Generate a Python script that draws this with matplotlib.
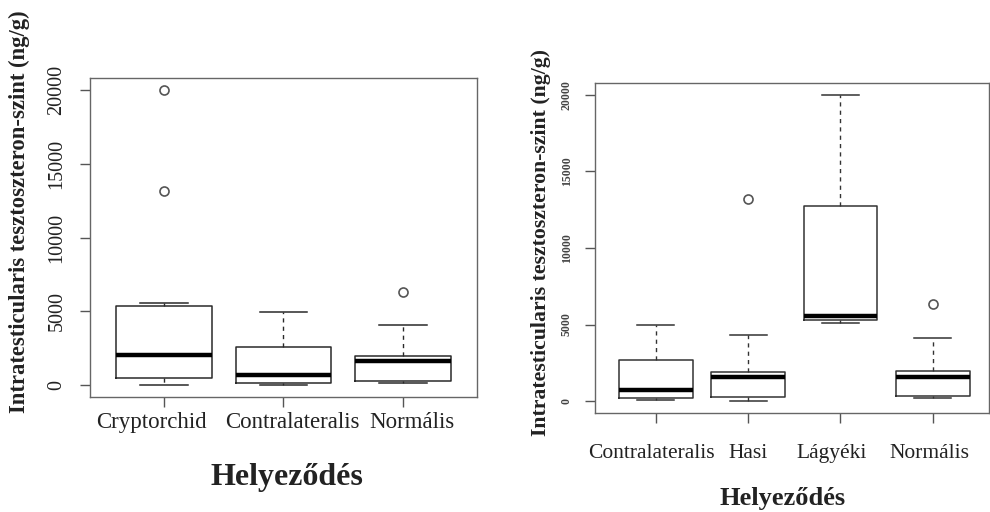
import matplotlib
matplotlib.use("Agg")
import matplotlib.pyplot as plt
from matplotlib.transforms import ScaledTranslation

plt.rcParams['font.family'] = ['Liberation Serif', 'DejaVu Serif']

# Panel 1: three locations
left_groups = ["Cryptorchid", "Contralateralis", "Normális"]
left_q1 = [520, 180, 290]
left_med = [2030, 680, 1620]
left_q3 = [5360, 2590, 1980]
left_whislo = [30, 20, 160]
left_whishi = [5570, 4960, 4060]
left_fliers = [[13120, 20000], [], [6300]]

# Panel 2: four locations
right_groups = ["Contralateralis", "Hasi", "Lágyéki", "Normális"]
right_q1 = [220, 240, 5300, 330]
right_med = [720, 1590, 5560, 1590]
right_q3 = [2680, 1920, 12770, 1940]
right_whislo = [40, 30, 5120, 180]
right_whishi = [4970, 4290, 20000, 4100]
right_fliers = [[], [13180], [], [6360]]

yticks = [0, 5000, 10000, 15000, 20000]

ylab = "Intratesticularis tesztoszteron-szint (ng/g)"
xlab = "Helyeződés"
ink = "#222222"

# sideways nudges (pixels) for the category names
left_shift = [-13, 9, 9]
right_shift = [-4, 0, -9, -3]


def make_stats(groups, q1, med, q3, lo, hi, fl):
    return [dict(label=g, q1=a, med=m, q3=b, whislo=l, whishi=h, fliers=f)
            for g, a, m, b, l, h, f in zip(groups, q1, med, q3, lo, hi, fl)]


def draw_panel(ax, stats, line_col):
    n = len(stats)
    ax.bxp(stats, positions=range(1, n + 1), widths=0.8, capwidths=0.4,
           boxprops=dict(color=line_col, lw=1.1),
           medianprops=dict(color="black", lw=3.2, solid_capstyle="butt"),
           whiskerprops=dict(color=line_col, lw=1.0, linestyle=(0, (3, 3))),
           capprops=dict(color=line_col, lw=1.1),
           flierprops=dict(marker="o", markersize=6.5, markerfacecolor="none",
                           markeredgecolor="#555555", markeredgewidth=1.2))
    ax.set_ylim(-800, 20800)
    ax.set_yticks(yticks)
    for s in ax.spines.values():
        s.set_color("#666666")
        s.set_linewidth(1.0)
    ax.tick_params(colors="#555555", length=7, width=1.0, labelcolor=ink)


def nudge_labels(ax, shifts):
    for lbl, dx in zip(ax.get_xticklabels(), shifts):
        lbl.set_transform(lbl.get_transform() +
                          ScaledTranslation(dx / 100, 0, fig.dpi_scale_trans))


fig = plt.figure(figsize=(9.9, 5.12), dpi=100)

# left chart
ax1 = fig.add_axes([0.0909, 0.2246, 0.3909, 0.623])
draw_panel(ax1, make_stats(left_groups, left_q1, left_med, left_q3,
                           left_whislo, left_whishi, left_fliers), "#2a2a2a")
ax1.set_xlim(0.38, 3.62)
ax1.set_yticklabels([str(v) for v in yticks], rotation=90, va="center",
                    fontsize=14.5)
ax1.tick_params(axis="y", pad=10)
ax1.tick_params(axis="x", labelsize=16.5, pad=4)
nudge_labels(ax1, left_shift)
ax1.set_ylabel(ylab, fontsize=16.3, fontweight="bold", color=ink)
ax1.yaxis.set_label_coords(-0.155, 0.58)
ax1.set_xlabel(xlab, fontsize=23, fontweight="bold", color=ink)
ax1.xaxis.set_label_coords(0.509, -0.207)

# right chart
ax2 = fig.add_axes([0.601, 0.1928, 0.398, 0.6457])
draw_panel(ax2, make_stats(right_groups, right_q1, right_med, right_q3,
                           right_whislo, right_whishi, right_fliers), "#333333")
ax2.set_xlim(0.34, 4.61)
ax2.set_yticklabels([str(v) for v in yticks], rotation=90, va="center",
                    fontsize=8.5, fontweight="bold", color="#444444")
ax2.tick_params(axis="y", pad=9)
ax2.tick_params(axis="x", labelsize=15.5, pad=15)
nudge_labels(ax2, right_shift)
ax2.set_ylabel(ylab, fontsize=15.7, fontweight="bold", color=ink)
ax2.yaxis.set_label_coords(-0.112, 0.518)
ax2.set_xlabel(xlab, fontsize=19, fontweight="bold", color=ink, va="baseline")
ax2.xaxis.set_label_coords(0.475, -0.277)

fig.savefig("out.png", dpi=100)
